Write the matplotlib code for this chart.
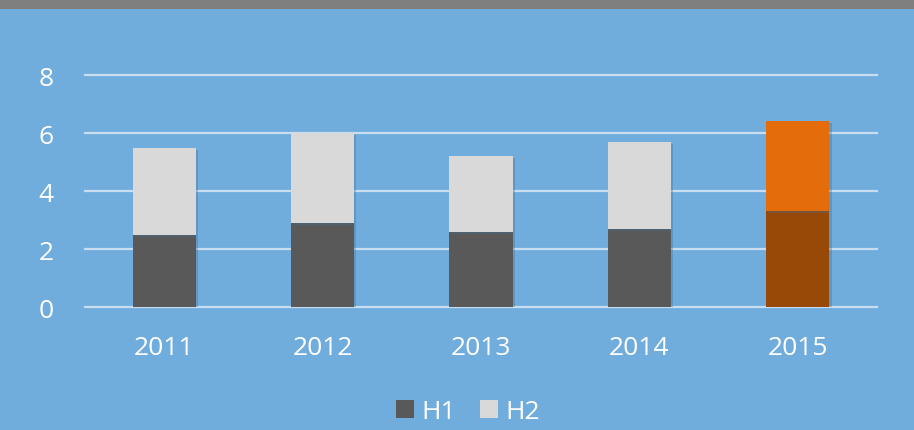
import matplotlib
matplotlib.use("Agg")
import matplotlib.pyplot as plt
from matplotlib.patches import Rectangle
import matplotlib.patheffects as pe

years = ["2011", "2012", "2013", "2014", "2015"]
h1 = [2.5, 2.9, 2.6, 2.7, 3.3]
h2 = [3.0, 3.1, 2.6, 3.0, 3.1]
yticks = [0, 2, 4, 6, 8]

c_h1 = ["#595959"] * 4 + ["#984807"]
c_h2 = ["#D9D9D9"] * 4 + ["#E46C0A"]
bg = "#70ADDC"

plt.rcParams['font.family'] = ['Open Sans', 'DejaVu Sans']

fig = plt.figure(figsize=(9.14, 4.31), dpi=100, facecolor=bg)
# top grey band
fig.patches.append(Rectangle((0, 1 - 10 / 431), 1, 10 / 431, transform=fig.transFigure,
                             facecolor="#7F7F7F", edgecolor="none", zorder=0))

ax = fig.add_axes([85 / 914, 1 - 308 / 431, 792 / 914, 232 / 431])
ax.set_facecolor(bg)
x = list(range(len(years)))
shadow = [pe.SimplePatchShadow(offset=(1.5, -1.5), shadow_rgbFace="#3E6E96", alpha=0.35), pe.Normal()]
b1 = ax.bar(x, h1, width=0.4, color=c_h1, zorder=3, label="H1")
b2 = ax.bar(x, h2, width=0.4, bottom=h1, color=c_h2, zorder=3, label="H2")
for r in list(b1) + list(b2):
    r.set_path_effects(shadow)

ax.set_xlim(-0.5, 4.5)
ax.set_ylim(0, 8)
ax.set_yticks(yticks)
ax.set_xticks(x)
ax.set_xticklabels(years)
for yv in yticks:
    ax.axhline(yv, color="#C8DDF0", lw=1.6, zorder=1, clip_on=False)
for s in ax.spines.values():
    s.set_visible(False)
ax.tick_params(axis="both", length=0, colors="white", labelsize=19)
ax.tick_params(axis="x", pad=20)
ax.tick_params(axis="y", pad=28)
for lab in ax.get_yticklabels():
    lab.set_horizontalalignment("center")

leg = fig.legend(handles=[b1[0], b2[0]], labels=["H1", "H2"], loc="center",
                 bbox_to_anchor=(468 / 914, 1 - 413 / 431), ncol=2, frameon=False,
                 fontsize=19, handlelength=0.68, handleheight=0.68, handletextpad=0.3,
                 columnspacing=0.9, labelcolor="white")
for h in leg.legend_handles:
    h.set_path_effects([])

fig.savefig("out.png", dpi=100, facecolor=bg)
